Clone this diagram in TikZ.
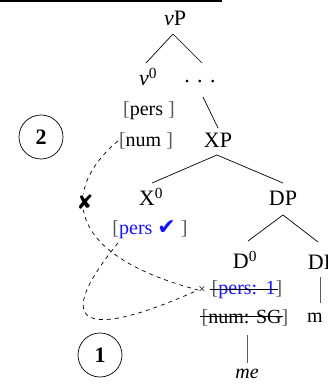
\documentclass[tikz,border=0pt]{standalone}
\usepackage{fontspec}
\setmainfont{Liberation Serif}
\newfontfamily\symfont{DejaVu Sans}
\usetikzlibrary{calc}
\definecolor{brk}{gray}{0.35}
\definecolor{fblue}{RGB}{20,20,255}
\begin{document}
\begin{tikzpicture}[x=1pt,y=-1pt,
  lbl/.style={inner sep=0pt,font=\fontsize{22}{24}\selectfont},
  feat/.style={inner sep=0pt,font=\fontsize{20}{22}\selectfont},
  edge/.style={line width=0.7pt},
  gedge/.style={line width=0.7pt,draw=brk},
  dsh/.style={dashed,dash pattern=on 4pt off 4pt,line width=0.7pt},
  numcirc/.style={circle,draw,line width=0.7pt,minimum size=44pt,inner sep=0pt,font=\fontsize{22}{24}\selectfont\bfseries}]
\useasboundingbox (0,0) rectangle (327,385);
\clip (0,0) rectangle (327,385);
\draw[line width=1.3pt] (0,1) -- (222,1);
% nodes
\node[lbl] (vP) at (175,18) {\textit{v}P};
\node[lbl] (v0) at (148,77) {\textit{v}\textsuperscript{0}};
\node[lbl] (dots) at (200,82) {. . .};
\node[feat] (pers1) at (149,111) {{\color{brk}[}pers {\color{brk}]}};
\node[feat] (num1) at (146,141) {{\color{brk}[}num {\color{brk}]}};
\node[lbl] (XP) at (218,140) {XP};
\node[lbl] (X0) at (151,197) {X\textsuperscript{0}};
\node[lbl] (DP) at (283,198) {DP};
\node[feat] (persck) at (150,230) {{\color{brk}[}{\color{fblue}pers {\symfont\fontsize{22}{22}\selectfont ✔}} {\color{brk}]}};
\node[lbl] (D0) at (245,260) {D\textsuperscript{0}};
\node[lbl] (DP2) at (322,262) {DP};
\node[feat] (pers2) at (247,290) {{\color{brk}[}{\color{fblue}pers:\ \,1}{\color{brk}]}};
\node[feat] (num2) at (245,318) {{\color{brk}[}num: SG{\color{brk}]}};
\node[feat,anchor=west] (m) at (307,318) {m};
\node[feat] (me) at (247,374) {\textit{me}};
\node[inner sep=0pt,font=\fontsize{13}{14}\selectfont] (xm) at (202,290) {×};
\node[numcirc] (c2) at (41,137) {2};
\node[numcirc] (c1) at (100,355) {1};
% tree edges
\draw[edge] ($(vP)+(-2,16)$) -- ($(v0)+(-2,-14)$);
\draw[edge] ($(vP)+(-2,16)$) -- ($(dots)+(2,-19)$);
\draw[edge] ($(dots)+(3,15)$) -- ($(XP)+(0,-12)$);
\draw[edge] ($(XP)+(-1,15)$) -- ($(X0)+(1,-14)$);
\draw[edge] ($(XP)+(-1,15)$) -- ($(DP)+(0,-15)$);
\draw[edge] ($(DP)+(0,17)$) -- ($(D0)+(3,-19)$);
\draw[edge] ($(DP)+(0,17)$) -- ($(DP2)+(-4,-20)$);
\draw[gedge] ($(DP2)+(-2,15)$) -- ($(DP2)+(-2,41)$);
\draw[gedge] ($(num2)+(2,17)$) -- ($(me)+(0,-11)$);
% strikeouts
\draw[line width=0.7pt] ($(pers2)+(-37,-1)$) -- ($(pers2)+(31,-1)$);
\draw[line width=0.7pt] ($(num2)+(-45,-2)$) -- ($(num2)+(38,-2)$);
% dashed agreement paths
\draw[dsh] ($(num1.west)+(-1,0)$) .. controls (60,190) and (65,255) .. (xm.west);
\draw[dsh] ($(persck)+(-32,13)$) .. controls (55,320) and (75,345) .. (xm.west);
\node[inner sep=1pt,fill=white,font=\symfont\fontsize{20}{20}\selectfont\bfseries] (nox) at (85,202) {✘};
\end{tikzpicture}
\end{document}
